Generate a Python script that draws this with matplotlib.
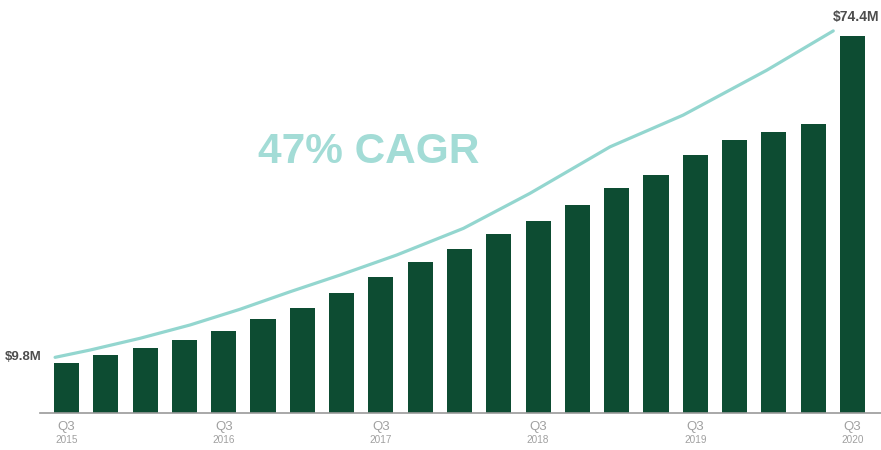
import numpy as np
import matplotlib
matplotlib.use("Agg")
import matplotlib.pyplot as plt

plt.rcParams['font.family'] = ['Liberation Sans', 'DejaVu Sans']

# Quarterly values ($M), Q3 2015 .. Q3 2020
quarters = ['Q3', 'Q4', 'Q1', 'Q2'] * 5 + ['Q3']
bar_vals = [9.8, 11.4, 12.9, 14.4, 16.2, 18.5, 20.6, 23.6, 26.8, 29.8, 32.3,
            35.2, 37.8, 40.9, 44.3, 47.0, 50.8, 53.9, 55.4, 57.0, 74.4]
tick_idx = [0, 4, 8, 12, 16, 20]
tick_years = ['2015', '2016', '2017', '2018', '2019', '2020']

# CAGR trend curve (x in bar-index units)
trend_x = [-0.29, 0.60, 1.87, 3.14, 4.41, 5.69, 6.96, 8.40, 10.10, 11.79,
           13.83, 15.69, 17.82, 19.51]
trend_y = [10.97, 12.41, 14.72, 17.34, 20.43, 23.90, 27.19, 31.13, 36.39,
           43.28, 52.46, 58.71, 67.57, 75.31]

bar_color = '#0d4c32'
line_color = '#93d6cf'

fig = plt.figure(figsize=(8.81, 4.5), dpi=100)
ax = fig.add_axes([40 / 881, 37 / 450, 841 / 881, 413 / 450])

x = np.arange(len(bar_vals))
ax.bar(x, bar_vals, width=0.64, color=bar_color, zorder=2)
ax.plot(trend_x, trend_y, color=line_color, lw=2.3, solid_capstyle='round', zorder=3)

ax.set_xlim(-0.674, 20.725)
ax.set_ylim(0, 81.4)

for s in ['top', 'right', 'left']:
    ax.spines[s].set_visible(False)
ax.spines['bottom'].set_color('#999999')
ax.spines['bottom'].set_linewidth(1.2)
ax.set_yticks([])
ax.set_xticks([])

for i, yr in zip(tick_idx, tick_years):
    ax.annotate(quarters[i], xy=(i, 0), xycoords=('data', 'axes fraction'),
                xytext=(0, -10), textcoords='offset points', ha='center',
                va='center', fontsize=9.5, color='#a0a0a0')
    ax.annotate(yr, xy=(i, 0), xycoords=('data', 'axes fraction'),
                xytext=(0, -19.5), textcoords='offset points', ha='center',
                va='center', fontsize=7.2, color='#a0a0a0')

ax.annotate('$9.8M', xy=(trend_x[0], trend_y[0]), xytext=(-10, 0),
            textcoords='offset points', ha='right', va='center',
            fontsize=9.5, fontweight='bold', color='#4d4d4d')
ax.annotate('$74.4M', xy=(trend_x[-1], trend_y[-1]), xytext=(0, 10),
            textcoords='offset points', ha='left', va='center',
            fontsize=10, fontweight='bold', color='#4d4d4d')

ax.text(7.68, 51.5, '47% CAGR', ha='center', va='center', fontsize=30.5,
        fontweight='bold', color='#a3dcd6')

fig.savefig('out.png', dpi=100)
